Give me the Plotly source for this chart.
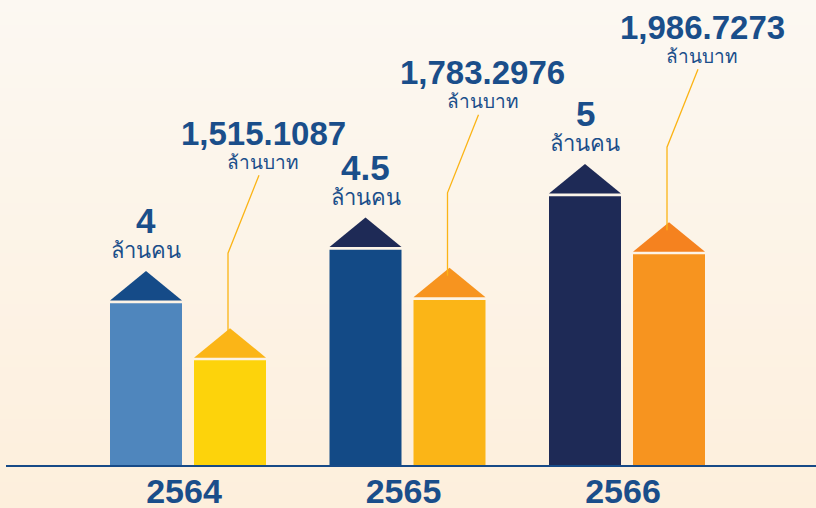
import plotly.graph_objects as go

# ---------------- data ----------------
years = ["2564", "2565", "2566"]
people = [4, 4.5, 5]                      # ล้านคน
people_text = ["4", "4.5", "5"]
money = [1515.1087, 1783.2976, 1986.7273]  # ล้านบาท
money_text = ["1,515.1087", "1,783.2976", "1,986.7273"]
people_unit = "ล้านคน"
money_unit = "ล้านบาท"

# ---------------- styles ----------------
people_bar_colors = ["#4f86bd", "#134a86", "#1e2a56"]
people_roof_colors = ["#154b88", "#1e2a56", "#1e2a56"]
money_bar_colors = ["#fdd30b", "#fbb517", "#f7941f"]
money_roof_colors = ["#fbb517", "#f7941f", "#f5821f"]
text_color = "#1a4e8a"
leader_color = "#fbb416"

W, H = 816, 508
ML, MR, MT, MB = 6, 0, 0, 43
PW, PH = W - ML - MR, H - MT - MB
PX_PER_X = 219.5
X0_PX = 188
x_range = [(ML - X0_PX) / PX_PER_X, (W - MR - X0_PX) / PX_PER_X]
y_range = [2.4876, 6.8333]
y2_range = [1049.46, 3118.34]
u1 = (y_range[1] - y_range[0]) / PH   # data units per px
u2 = (y2_range[1] - y2_range[0]) / PH
ux = 1 / PX_PER_X

bar_w = 72 * ux
off_people = -78 * ux
off_money = 6 * ux
gap_px, roof_px = 2.7, 29.5

idx = list(range(len(years)))

fig = go.Figure()

# background gradient strips
top_rgb = (252, 248, 242)
bot_rgb = (253, 239, 220)
N = 40
y_lo = -MB / PH
y_hi = 1.0
for k in range(N):
    t = (k + 0.5) / N
    c = tuple(round(top_rgb[j] + (bot_rgb[j] - top_rgb[j]) * t) for j in range(3))
    ya = y_hi - (y_hi - y_lo) * k / N
    yb = y_hi - (y_hi - y_lo) * (k + 1) / N
    fig.add_shape(type="rect", xref="paper", yref="paper", x0=-0.02, x1=1.02,
                  y0=yb - 0.002, y1=ya + 0.002, fillcolor="rgb(%d,%d,%d)" % c,
                  line=dict(width=0), layer="below")

fig.add_trace(go.Bar(x=idx, y=people, offset=off_people, width=bar_w,
                     marker=dict(color=people_bar_colors, line=dict(width=0)),
                     hoverinfo="skip", showlegend=False))
fig.add_trace(go.Bar(x=idx, y=money, offset=off_money, width=bar_w, yaxis="y2",
                     marker=dict(color=money_bar_colors, line=dict(width=0)),
                     hoverinfo="skip", showlegend=False))

annotations = []
for i in idx:
    # people roof
    l = i + off_people
    r = l + bar_w
    c = (l + r) / 2
    base = people[i] + gap_px * u1
    apex = base + roof_px * u1
    fig.add_trace(go.Scatter(x=[l, c, r, l], y=[base, apex, base, base], mode="lines",
                             fill="toself", fillcolor=people_roof_colors[i],
                             line=dict(width=0, color=people_roof_colors[i]),
                             hoverinfo="skip", showlegend=False))
    annotations.append(dict(x=c, y=apex, xref="x", yref="y", text=people_text[i],
                            showarrow=False, yanchor="middle", yshift=50,
                            font=dict(family="Liberation Sans", size=35, color=text_color, weight="bold")))
    annotations.append(dict(x=c, y=apex, xref="x", yref="y", text=people_unit,
                            showarrow=False, yanchor="middle", yshift=20,
                            font=dict(family="Liberation Sans, sans-serif", size=22, color=text_color)))

    # money roof
    l = i + off_money
    r = l + bar_w
    c = (l + r) / 2
    base = money[i] + gap_px * u2
    apex = base + roof_px * u2
    fig.add_trace(go.Scatter(x=[l, c, r, l], y=[base, apex, base, base], mode="lines",
                             fill="toself", fillcolor=money_roof_colors[i], yaxis="y2",
                             line=dict(width=0, color=money_roof_colors[i]),
                             hoverinfo="skip", showlegend=False))
    lx = c - 2 * ux
    bot = apex - 8 * u2
    knee = apex + 75 * u2
    ex = lx + 31 * ux
    ey = knee + 78 * u2
    fig.add_trace(go.Scatter(x=[lx, lx, ex], y=[bot, knee, ey], mode="lines", yaxis="y2",
                             line=dict(width=1.3, color=leader_color),
                             hoverinfo="skip", showlegend=False))
    annotations.append(dict(x=ex, y=ey, xref="x", yref="y2", text=money_text[i],
                            showarrow=False, yanchor="middle", yshift=42, xshift=4,
                            font=dict(family="Liberation Sans", size=33, color=text_color, weight="bold")))
    annotations.append(dict(x=ex, y=ey, xref="x", yref="y2", text=money_unit,
                            showarrow=False, yanchor="middle", yshift=13, xshift=4,
                            font=dict(family="Liberation Sans, sans-serif", size=19, color=text_color)))

fig.update_layout(
    width=W, height=H,
    margin=dict(l=ML, r=MR, t=MT, b=MB, autoexpand=False),
    paper_bgcolor="#fdf0de",
    plot_bgcolor="rgba(0,0,0,0)",
    barmode="overlay",
    showlegend=False,
    annotations=annotations,
    xaxis=dict(range=x_range, tickvals=idx, ticktext=years, showgrid=False, zeroline=False,
               showline=True, linewidth=2, linecolor="#174a87", ticks="",
               tickfont=dict(family="Liberation Sans", size=34, color=text_color, weight="bold"),
               ticklabelshift=-4, ticklabelstandoff=-5, automargin=False),
    yaxis=dict(range=y_range, visible=False, showgrid=False, zeroline=False, fixedrange=True),
    yaxis2=dict(range=y2_range, visible=False, overlaying="y", showgrid=False, zeroline=False),
)

fig.write_html("out.html", config={"displayModeBar": False},
               post_script="document.body.style.margin='0';document.body.style.overflow='hidden';")
